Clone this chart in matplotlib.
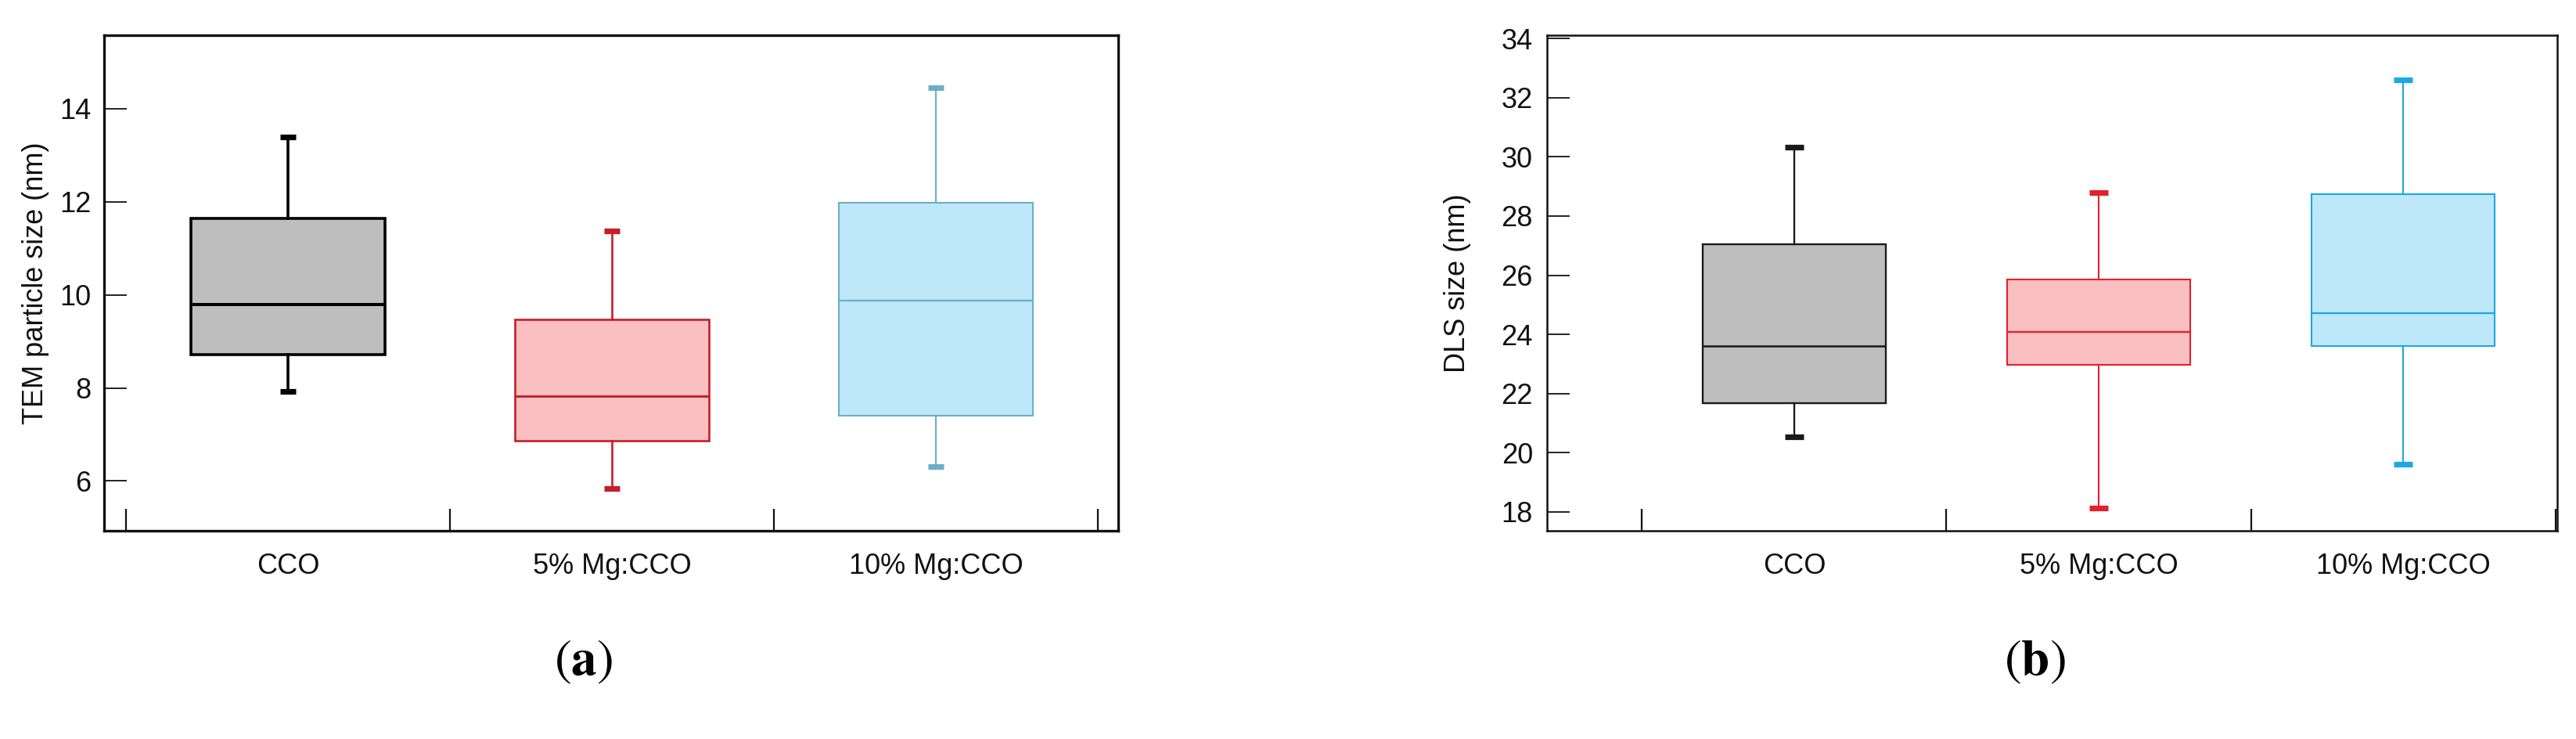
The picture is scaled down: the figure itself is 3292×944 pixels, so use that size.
import matplotlib
matplotlib.use("Agg")
import matplotlib.pyplot as plt

plt.rcParams['font.family'] = ['Liberation Sans', 'DejaVu Sans']
plt.rcParams['mathtext.fontset'] = 'stix'

# ---- data ----
categories = ["CCO", "5% Mg:CCO", "10% Mg:CCO"]

tem_low = [7.92, 5.84, 6.31]
tem_q1 = [8.72, 6.86, 7.41]
tem_med = [9.79, 7.83, 9.88]
tem_q3 = [11.65, 9.48, 11.98]
tem_high = [13.40, 11.38, 14.46]

dls_low = [20.53, 18.13, 19.62]
dls_q1 = [21.68, 22.96, 23.60]
dls_med = [23.60, 24.08, 24.73]
dls_q3 = [27.06, 25.86, 28.73]
dls_high = [30.32, 28.80, 32.60]

tem_yticks = [6, 8, 10, 12, 14]
dls_yticks = [18, 20, 22, 24, 26, 28, 30, 32, 34]

# ---- styles ----
fills_a = ['#bebebe', '#f9bfc1', '#bee8fa']
edges_a = ['#000000', '#c41e2a', '#6cafc6']
lw_a = [2.6, 1.9, 1.5]
fills_b = ['#bebebe', '#f9bfc1', '#bee8fa']
edges_b = ['#1a1a1a', '#e3202c', '#1ba8e4']
lw_b = [1.7, 1.5, 1.5]

W, H = 3292, 944
fig = plt.figure(figsize=(W / 100, H / 100), dpi=100)

ax_a = fig.add_axes([133 / W, 1 - 678 / H, (1429 - 133) / W, (678 - 45) / H])
ax_b = fig.add_axes([1977 / W, 1 - 678 / H, (3268 - 1977) / W, (678 - 45) / H])


def draw(ax, low, q1, med, q3, high, fills, edges, lws, capw):
    for i in range(len(categories)):
        stats = [dict(whislo=low[i], q1=q1[i], med=med[i], q3=q3[i], whishi=high[i], fliers=[])]
        ax.bxp(stats, positions=[i], widths=0.6, capwidths=capw, patch_artist=True,
               showfliers=False,
               boxprops=dict(facecolor=fills[i], edgecolor=edges[i], linewidth=lws[i]),
               medianprops=dict(color=edges[i], linewidth=lws[i] * 1.1),
               whiskerprops=dict(color=edges[i], linewidth=lws[i]),
               capprops=dict(color=edges[i], linewidth=5.2, solid_capstyle='butt'),
               manage_ticks=False)


draw(ax_a, tem_low, tem_q1, tem_med, tem_q3, tem_high, fills_a, edges_a, lw_a, 0.05)
draw(ax_b, dls_low, dls_q1, dls_med, dls_q3, dls_high, fills_b, edges_b, lw_b, 0.06)

ax_a.set_xlim(-0.568, 2.563)
ax_a.set_ylim(4.93, 15.58)
ax_b.set_xlim(-0.812, 2.506)
ax_b.set_ylim(17.365, 34.11)

for ax, yt, spw, pad_y in [(ax_a, tem_yticks, 2.4, 12), (ax_b, dls_yticks, 1.8, 13)]:
    for s in ax.spines.values():
        s.set_linewidth(spw)
        s.set_color('#111111')
    ax.set_yticks(yt)
    ax.set_yticklabels([str(v) for v in yt])
    ax.set_xticks([-0.5, 0.5, 1.5, 2.5])
    ax.set_xticklabels([])
    ax.set_xticks([0, 1, 2], minor=True)
    ax.set_xticklabels(categories, minor=True)
    ax.tick_params(axis='y', direction='in', length=21, width=1.3, pad=pad_y,
                   labelsize=26, colors='#111111', left=True, right=False)
    ax.tick_params(axis='x', which='major', direction='in', length=20, width=1.6,
                   top=False, colors='#111111')
    ax.tick_params(axis='x', which='minor', length=0, pad=20, labelsize=26,
                   colors='#111111')

ax_a.set_ylabel("TEM particle size (nm)", fontsize=26, color='#111111')
ax_a.yaxis.set_label_coords(-0.054, 0.5)
ax_b.set_ylabel("DLS size (nm)", fontsize=26, color='#111111')
ax_b.yaxis.set_label_coords(-0.075, 0.5)

fig.text(745 / W, 1 - 846 / H, r"$(\mathbf{a})$", fontsize=47, ha='center', va='center')
fig.text(2600 / W, 1 - 846 / H, r"$(\mathbf{b})$", fontsize=47, ha='center', va='center')

fig.savefig("out.png", dpi=100, facecolor='white')
